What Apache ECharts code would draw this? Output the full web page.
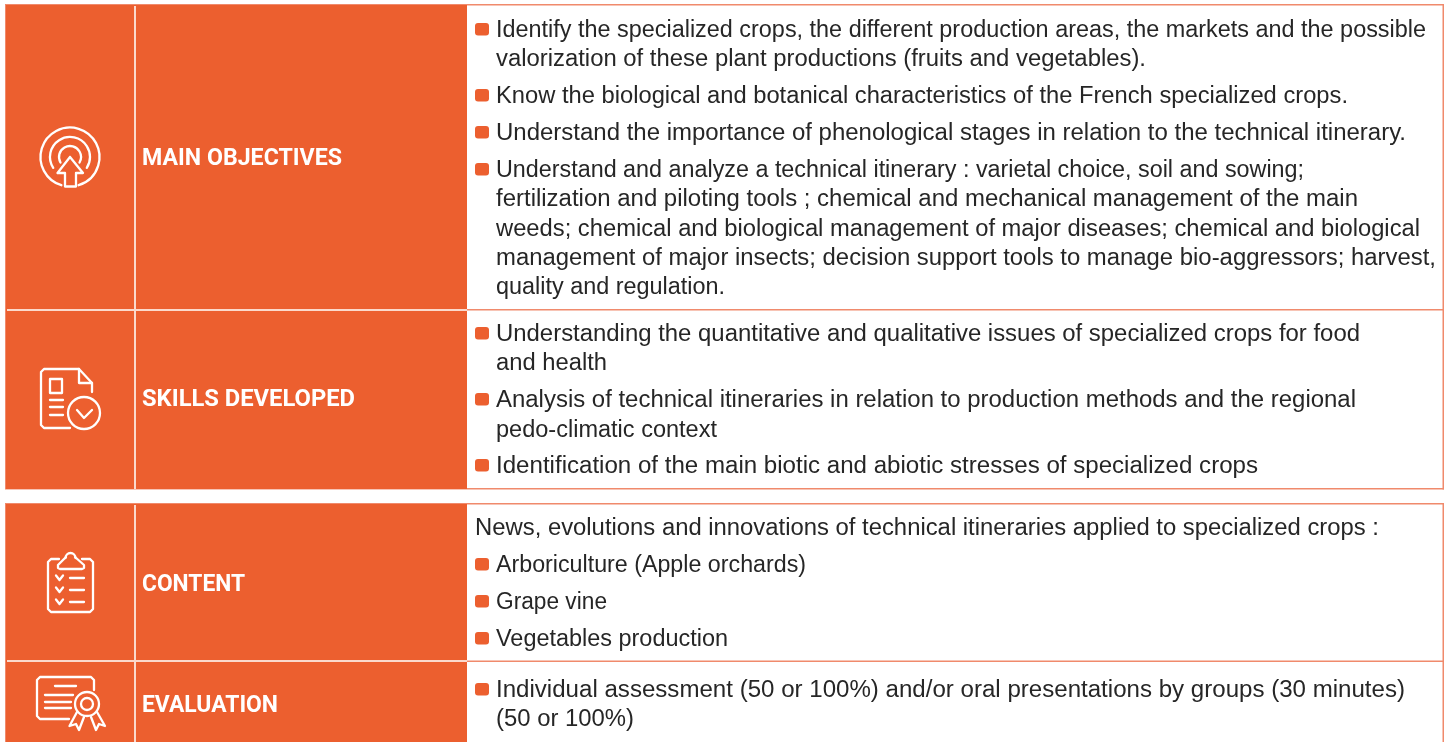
<!DOCTYPE html>
<html>
<head>
<meta charset="utf-8">
<title>Course sheet</title>
<style>
  html, body { margin: 0; padding: 0; background: #fff; }
  #main { width: 1450px; height: 742px; }
</style>
<script src="https://cdn.jsdelivr.net/npm/echarts@6/dist/echarts.min.js"></script>
</head>
<body>
<div id="main"></div>
<script>
var headings = ['MAIN OBJECTIVES', 'SKILLS DEVELOPED', 'CONTENT', 'EVALUATION'];
var bodyLines = [
  'Identify the specialized crops, the different production areas, the markets and the possible',
  'valorization of these plant productions (fruits and vegetables).',
  'Know the biological and botanical characteristics of the French specialized crops.',
  'Understand the importance of phenological stages in relation to the technical itinerary.',
  'Understand and analyze a technical itinerary : varietal choice, soil and sowing;',
  'fertilization and piloting tools ; chemical and mechanical management of the main',
  'weeds; chemical and biological management of major diseases; chemical and biological',
  'management of major insects; decision support tools to manage bio-aggressors; harvest,',
  'quality and regulation.',
  'Understanding the quantitative and qualitative issues of specialized crops for food',
  'and health',
  'Analysis of technical itineraries in relation to production methods and the regional',
  'pedo-climatic context',
  'Identification of the main biotic and abiotic stresses of specialized crops',
  'News, evolutions and innovations of technical itineraries applied to specialized crops :',
  'Arboriculture (Apple orchards)',
  'Grape vine',
  'Vegetables production',
  'Individual assessment (50 or 100%) and/or oral presentations by groups (30 minutes)',
  '(50 or 100%)'
];
// 1 = line starts a bullet
var bulletFlags = [1, 0, 1, 1, 1, 0, 0, 0, 0, 1, 0, 1, 0, 1, 0, 1, 1, 1, 1, 0];

var ORANGE = '#ec5f2f';
var EDGE = '#f08a6c';
var RULE = '#fbd9cc';
var TEXT = '#262626';
var BODY_FONT = '23px "Liberation Sans"';
var HEAD_FONT = '700 23px Roboto';

var lineY = [31, 60, 97, 134, 171, 200, 230, 259, 288, 335, 364, 401, 431, 467, 529, 566, 603, 640, 691, 720];
var lineEnd = [1426, 1146, 1348, 1406, 1304, 1358, 1420, 1436, 725, 1360, 607, 1356, 717, 1258, 1379, 806, 607, 728, 1405, 634];
var headingY = [159.5, 400.5, 585.5, 706];
var headingEnd = [342, 355, 245, 278];

var measureCtx = document.createElement('canvas').getContext('2d');
function fitScale(text, font, x0, x1) {
  measureCtx.font = font;
  return (x1 - x0) / measureCtx.measureText(text).width;
}

function rect(x, y, w, h, fill, r) {
  return { type: 'rect', silent: true, shape: { x: x, y: y, width: w, height: h, r: r || 0 }, style: { fill: fill } };
}
function stroke(type, shape, w) {
  return { type: type, silent: true, shape: shape, style: { fill: 'none', stroke: '#fff', lineWidth: w || 2.3, lineCap: 'round', lineJoin: 'round' } };
}
function poly(points, w) { return stroke('polyline', { points: points }, w); }
function arc(cx, cy, r, a0, a1) {
  return stroke('arc', { cx: cx, cy: cy, r: r, startAngle: a0 * Math.PI / 180, endAngle: a1 * Math.PI / 180, clockwise: true });
}

var elements = [];

// cell backgrounds and rules
elements.push(rect(5, 4, 462, 485.5, EDGE));
elements.push(rect(5, 503, 462, 239, EDGE));
elements.push(rect(6, 5, 461, 484, ORANGE));
elements.push(rect(6, 504, 461, 238, ORANGE));
elements.push(rect(134, 6, 2, 483, RULE));
elements.push(rect(134, 505, 2, 237, RULE));
elements.push(rect(7, 309, 460, 2, RULE));
elements.push(rect(7, 660, 460, 2, RULE));
elements.push(rect(467, 4, 977, 1.5, EDGE));
elements.push(rect(467, 309, 977, 1.5, EDGE));
elements.push(rect(467, 488, 977, 1.5, EDGE));
elements.push(rect(467, 503, 977, 1.5, EDGE));
elements.push(rect(467, 660.5, 977, 1.5, EDGE));
elements.push(rect(1442.5, 4, 1.5, 485.5, EDGE));
elements.push(rect(1442.5, 503, 1.5, 239, EDGE));

// icon: target with arrow
elements.push(arc(70, 157, 29.5, 107, 73));
elements.push(arc(70, 157, 20, 147, 33));
elements.push(arc(70, 157, 11, 150, 30));
elements.push(poly([[70, 157], [57.5, 173], [65, 173], [65, 186.5], [76, 186.5], [76, 173], [83, 173], [70, 157]]));

// icon: document with check
elements.push(poly([[70, 428], [44, 428], [41, 425], [41, 372], [44, 369], [79, 369], [92, 383], [92, 392]]));
elements.push(poly([[79, 369], [79, 383], [92, 383]]));
elements.push(stroke('rect', { x: 50, y: 379, width: 12, height: 14 }));
elements.push(poly([[50, 400], [63, 400]]));
elements.push(poly([[50, 407], [63, 407]]));
elements.push(poly([[50, 415], [63, 415]]));
elements.push(stroke('circle', { cx: 84, cy: 413, r: 16 }));
elements.push(poly([[77, 410], [84, 418], [92, 410]]));

// icon: clipboard
elements.push(poly([[59, 559], [51, 559], [48, 562], [48, 609], [51, 612], [90, 612], [93, 609], [93, 562], [90, 559], [82, 559]]));
elements.push(poly([[66, 557], [58, 565], [58, 568], [60, 569], [82, 569], [84, 568], [84, 565], [75, 557]]));
elements.push(arc(70.5, 558, 5, 180, 0));
[577, 589, 601].forEach(function (y) {
  elements.push(poly([[56, y - 1.5], [59.5, y + 3], [63, y - 1.5]]));
  elements.push(poly([[70, y + 1], [84, y + 1]]));
});

// icon: certificate
elements.push(poly([[69, 719], [40, 719], [37, 716], [37, 680], [40, 677], [91, 677], [94, 680], [94, 690]]));
elements.push(poly([[55, 686], [76, 686]]));
elements.push(poly([[45, 695], [73, 695]]));
elements.push(poly([[45, 702], [71, 702]]));
elements.push(poly([[45, 708], [71, 708]]));
elements.push(stroke('circle', { cx: 87, cy: 704, r: 12 }));
elements.push(stroke('circle', { cx: 87, cy: 704, r: 6 }));
elements.push(poly([[77, 712], [69.5, 726], [76, 724], [79, 730], [84, 717]]));
elements.push(poly([[91, 717], [96, 730], [99, 724], [105, 726], [97, 712]]));

// headings
headings.forEach(function (t, i) {
  elements.push({
    type: 'text', silent: true, x: 142, y: headingY[i],
    scaleX: fitScale(t, HEAD_FONT, 142, headingEnd[i]),
    style: { text: t, fill: '#fff', font: HEAD_FONT, align: 'left', verticalAlign: 'middle' }
  });
});

// body text with bullets
bodyLines.forEach(function (t, i) {
  var x0 = i === 14 ? 475 : 496;
  elements.push({
    type: 'text', silent: true, x: x0, y: lineY[i],
    scaleX: fitScale(t, BODY_FONT, x0, lineEnd[i]),
    style: { text: t, fill: TEXT, font: BODY_FONT, align: 'left', verticalAlign: 'middle' }
  });
  if (bulletFlags[i]) {
    elements.push(rect(475, lineY[i] - 8, 14, 12.5, ORANGE, 3));
  }
});

var chart = echarts.init(document.getElementById('main'), null, { renderer: 'canvas' });
chart.setOption({
  backgroundColor: '#fff',
  animation: false,
  graphic: { elements: elements }
});
window.onresize = function () { chart.resize(); };
</script>
</body>
</html>
